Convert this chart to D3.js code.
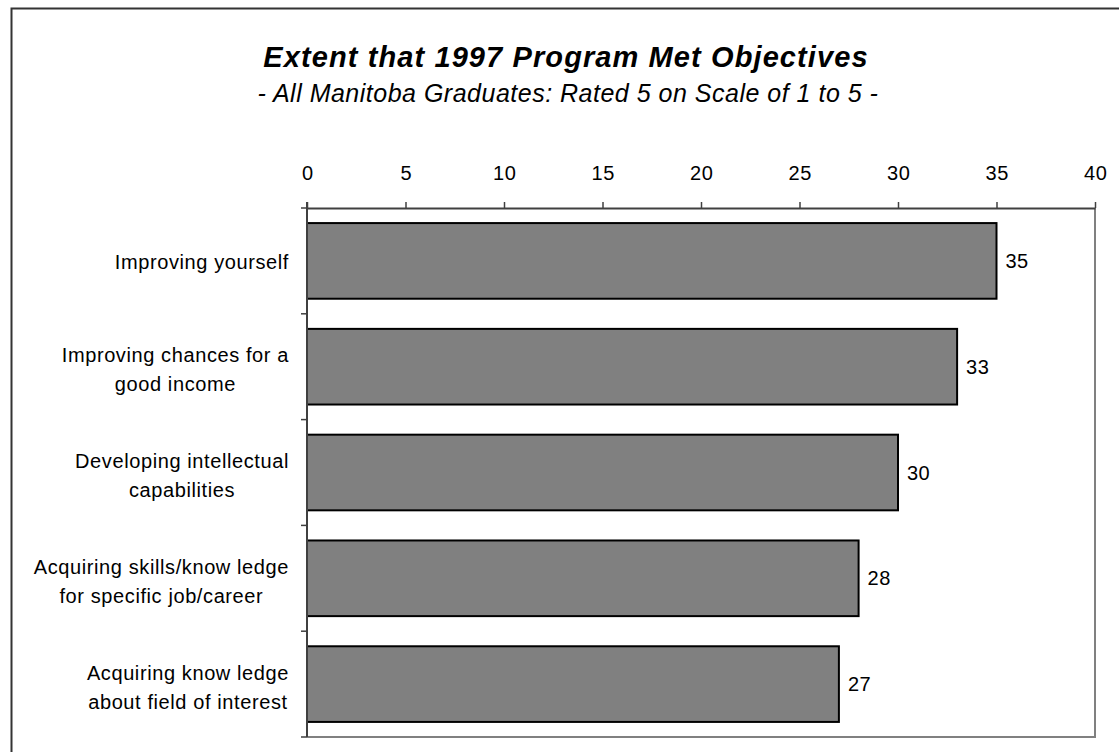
<!DOCTYPE html>
<html>
<head>
<meta charset="utf-8">
<script src="https://cdn.jsdelivr.net/npm/d3@7"></script>
<style>
  html, body { margin: 0; padding: 0; background: #fff; }
  svg { display: block; font-family: "Liberation Sans", Arial, sans-serif; }
</style>
</head>
<body>
<svg id="chart" width="1119" height="752"></svg>
<script>
const titleText = "Extent that 1997 Program Met Objectives";
const subtitleText = "- All Manitoba Graduates: Rated 5 on Scale of 1 to 5 -";
const categories = [
  ["Improving yourself"],
  ["Improving chances for a", "good income"],
  ["Developing intellectual", "capabilities"],
  ["Acquiring skills/know ledge", "for specific job/career"],
  ["Acquiring know ledge", "about field of interest"]
];
const values = [35, 33, 30, 28, 27];
const tickValues = [0, 5, 10, 15, 20, 25, 30, 35, 40];

const svg = d3.select("#chart");
const W = 1119, H = 752;

// outer chart frame (extends past the window on right/bottom)
svg.append("rect").attr("x", 11.5).attr("y", 8.5).attr("width", W + 20).attr("height", H + 20)
  .attr("fill", "#fff").attr("stroke", "#333").attr("stroke-width", 2);

// title
svg.append("text").attr("x", 566).attr("y", 67).attr("text-anchor", "middle")
  .attr("font-size", 29).attr("font-weight", "bold").attr("font-style", "italic")
  .attr("letter-spacing", 1.1)
  .attr("fill", "#000").text(titleText);
svg.append("text").attr("x", 568).attr("y", 102).attr("text-anchor", "middle")
  .attr("font-size", 25).attr("font-style", "italic").attr("letter-spacing", 0.5)
  .attr("fill", "#000").text(subtitleText);

const keys = categories.map((d, i) => i);
const x = d3.scaleLinear().domain([0, 40]).range([307, 1095]);
const y = d3.scaleBand().domain(keys).range([208, 737]).paddingInner(0.285).paddingOuter(0.1425);

// plot area border (right + bottom)
svg.append("path")
  .attr("d", `M${x(40)},208 V737 H${x(0)}`)
  .attr("fill", "none").attr("stroke", "#808080").attr("stroke-width", 2);

// bars
svg.append("g").selectAll("rect").data(values).join("rect")
  .attr("x", x(0))
  .attr("y", (d, i) => y(i))
  .attr("width", d => x(d) - x(0))
  .attr("height", y.bandwidth())
  .attr("fill", "#808080").attr("stroke", "#000").attr("stroke-width", 2);

// value labels
svg.append("g").selectAll("text").data(values).join("text")
  .attr("x", d => x(d) + 9)
  .attr("y", (d, i) => y(i) + y.bandwidth() / 2)
  .attr("dy", "0.35em")
  .attr("font-size", 20).attr("letter-spacing", 0.5).attr("fill", "#000")
  .text(d => d);

// top axis
const axis = svg.append("g").attr("transform", "translate(0,208)")
  .call(d3.axisTop(x).tickValues(tickValues).tickSize(6).tickSizeOuter(0).tickPadding(22).tickFormat(d3.format("d")));
axis.select(".domain").attr("stroke", "#404040").attr("stroke-width", 2);
axis.selectAll(".tick line").attr("stroke", "#404040").attr("stroke-width", 1.5);
axis.selectAll(".tick text").attr("font-size", 20).attr("fill", "#000")
  .attr("letter-spacing", 0.6).attr("dx", "0.3")
  .attr("font-family", "Liberation Sans, Arial, sans-serif");

// left axis
const step = y.step();
const r0 = y.range()[0];
svg.append("line").attr("x1", x(0)).attr("x2", x(0)).attr("y1", 202).attr("y2", 737)
  .attr("stroke", "#404040").attr("stroke-width", 2);
const bounds = d3.range(keys.length + 1).map(i => r0 + i * step);
svg.append("g").selectAll("line").data(bounds).join("line")
  .attr("x1", x(0) - 6).attr("x2", x(0))
  .attr("y1", d => d).attr("y2", d => d)
  .attr("stroke", "#404040").attr("stroke-width", 1.5);

// category labels
const lineH = 29;
const labelRight = 289;
const lg = svg.append("g");
categories.forEach((lines, i) => {
  const cy = y(i) + y.bandwidth() / 2 + (lines.length > 1 ? 3 : 1);
  const t = lg.append("text").attr("text-anchor", "middle")
    .attr("font-size", 20).attr("letter-spacing", 0.6).attr("fill", "#000");
  lines.forEach((ln, j) => {
    t.append("tspan").attr("x", 0).attr("y", cy + (j - (lines.length - 1) / 2) * lineH)
      .attr("dy", "0.35em").text(ln);
  });
});
// right-align each block while centering its lines within the block
lg.selectAll("text").each(function() {
  const el = d3.select(this);
  const widths = [];
  el.selectAll("tspan").each(function() { widths.push(this.getComputedTextLength()); });
  const maxW = d3.max(widths);
  el.selectAll("tspan").attr("x", labelRight - maxW / 2);
});
</script>
</body>
</html>
